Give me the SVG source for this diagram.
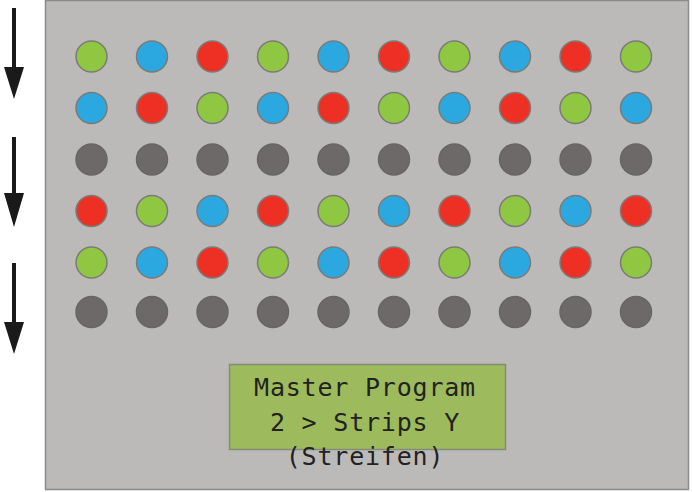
<svg xmlns="http://www.w3.org/2000/svg" width="692" height="492" viewBox="0 0 692 492">
<style>
.c{stroke:#7b7b78;stroke-width:1.5}
.g{fill:#8fc742}.b{fill:#2ba8df}.r{fill:#ee3024}.k{fill:#6c6968;stroke:#666}
.t{font-family:"DejaVu Sans Mono","Liberation Mono",monospace;font-size:25px;fill:#222;text-anchor:middle;letter-spacing:0.8px}
</style>
<defs>
<marker id="ah" viewBox="0 0 20 32" refX="10" refY="32" markerWidth="20" markerHeight="32" markerUnits="userSpaceOnUse" orient="auto-start-reverse">
<path d="M0,0 L20,0 L10,32 Z" fill="#1a1a1a"/>
</marker>
</defs>
<rect id="panel" x="45.5" y="0.5" width="643" height="489" fill="#bcbab9" stroke="#8a8a8a" stroke-width="1.5"/>
<g id="connectors" stroke="#1a1a1a" stroke-width="4" fill="none">
<path d="M14,8 V68"/>
<path d="M14,137 V194"/>
<path d="M14,263 V323"/>
<path d="M4,67 L24,67 L14,99 Z M4,193 L24,193 L14,227 Z M4,322 L24,322 L14,354 Z" fill="#1a1a1a" stroke="none"/>
</g>
<g id="dots" class="c">
<g id="row1">
<circle class="c g" cx="91.5" cy="56.5" r="15.5"/><circle class="c b" cx="152" cy="56.5" r="15.5"/><circle class="c r" cx="212.5" cy="56.5" r="15.5"/><circle class="c g" cx="273" cy="56.5" r="15.5"/><circle class="c b" cx="333.5" cy="56.5" r="15.5"/><circle class="c r" cx="394" cy="56.5" r="15.5"/><circle class="c g" cx="454.5" cy="56.5" r="15.5"/><circle class="c b" cx="515" cy="56.5" r="15.5"/><circle class="c r" cx="575.5" cy="56.5" r="15.5"/><circle class="c g" cx="636" cy="56.5" r="15.5"/>
</g>
<g id="row2">
<circle class="c b" cx="91.5" cy="108" r="15.5"/><circle class="c r" cx="152" cy="108" r="15.5"/><circle class="c g" cx="212.5" cy="108" r="15.5"/><circle class="c b" cx="273" cy="108" r="15.5"/><circle class="c r" cx="333.5" cy="108" r="15.5"/><circle class="c g" cx="394" cy="108" r="15.5"/><circle class="c b" cx="454.5" cy="108" r="15.5"/><circle class="c r" cx="515" cy="108" r="15.5"/><circle class="c g" cx="575.5" cy="108" r="15.5"/><circle class="c b" cx="636" cy="108" r="15.5"/>
</g>
<g id="row3">
<circle class="k" cx="91.5" cy="159.5" r="15.5"/><circle class="k" cx="152" cy="159.5" r="15.5"/><circle class="k" cx="212.5" cy="159.5" r="15.5"/><circle class="k" cx="273" cy="159.5" r="15.5"/><circle class="k" cx="333.5" cy="159.5" r="15.5"/><circle class="k" cx="394" cy="159.5" r="15.5"/><circle class="k" cx="454.5" cy="159.5" r="15.5"/><circle class="k" cx="515" cy="159.5" r="15.5"/><circle class="k" cx="575.5" cy="159.5" r="15.5"/><circle class="k" cx="636" cy="159.5" r="15.5"/>
</g>
<g id="row4">
<circle class="c r" cx="91.5" cy="211" r="15.5"/><circle class="c g" cx="152" cy="211" r="15.5"/><circle class="c b" cx="212.5" cy="211" r="15.5"/><circle class="c r" cx="273" cy="211" r="15.5"/><circle class="c g" cx="333.5" cy="211" r="15.5"/><circle class="c b" cx="394" cy="211" r="15.5"/><circle class="c r" cx="454.5" cy="211" r="15.5"/><circle class="c g" cx="515" cy="211" r="15.5"/><circle class="c b" cx="575.5" cy="211" r="15.5"/><circle class="c r" cx="636" cy="211" r="15.5"/>
</g>
<g id="row5">
<circle class="c g" cx="91.5" cy="262.5" r="15.5"/><circle class="c b" cx="152" cy="262.5" r="15.5"/><circle class="c r" cx="212.5" cy="262.5" r="15.5"/><circle class="c g" cx="273" cy="262.5" r="15.5"/><circle class="c b" cx="333.5" cy="262.5" r="15.5"/><circle class="c r" cx="394" cy="262.5" r="15.5"/><circle class="c g" cx="454.5" cy="262.5" r="15.5"/><circle class="c b" cx="515" cy="262.5" r="15.5"/><circle class="c r" cx="575.5" cy="262.5" r="15.5"/><circle class="c g" cx="636" cy="262.5" r="15.5"/>
</g>
<g id="row6">
<circle class="k" cx="91.5" cy="312" r="15.5"/><circle class="k" cx="152" cy="312" r="15.5"/><circle class="k" cx="212.5" cy="312" r="15.5"/><circle class="k" cx="273" cy="312" r="15.5"/><circle class="k" cx="333.5" cy="312" r="15.5"/><circle class="k" cx="394" cy="312" r="15.5"/><circle class="k" cx="454.5" cy="312" r="15.5"/><circle class="k" cx="515" cy="312" r="15.5"/><circle class="k" cx="575.5" cy="312" r="15.5"/><circle class="k" cx="636" cy="312" r="15.5"/>
</g>
</g>
<g id="display">
<rect x="229.5" y="364.5" width="276" height="85" fill="#9dbb5c" stroke="#858a7a" stroke-width="1.5"/>
<text class="t" x="365" y="396">Master Program</text>
<text class="t" x="365" y="431">2 &gt; Strips Y</text>
<text class="t" x="365" y="465">(Streifen)</text>
</g>
</svg>
